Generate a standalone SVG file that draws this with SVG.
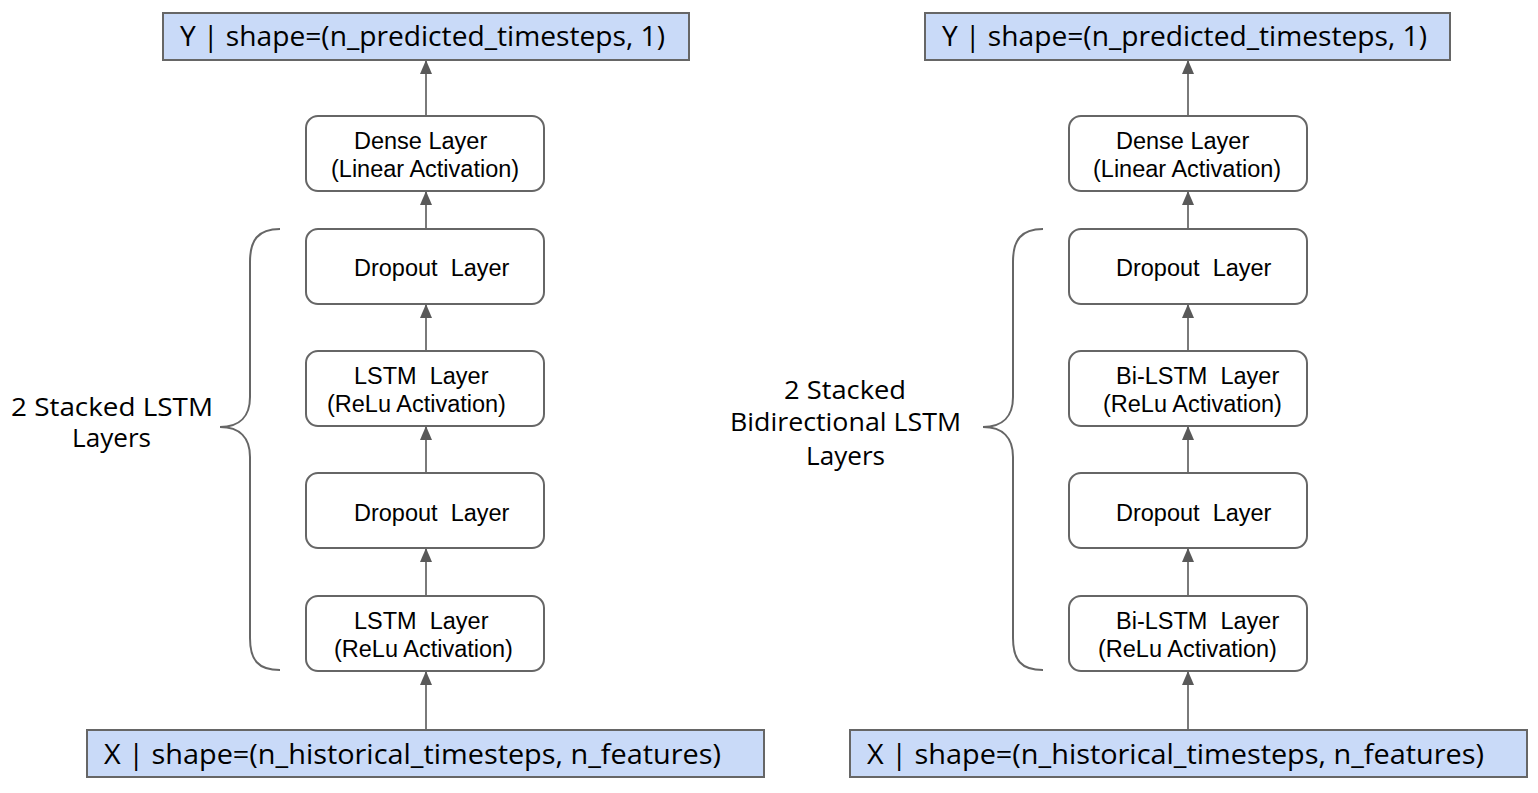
<svg xmlns="http://www.w3.org/2000/svg" width="1538" height="793" viewBox="0 0 1538 793">
<style>
.io{fill:#c9daf8;stroke:#666666;stroke-width:2}
.nd{fill:#ffffff;stroke:#666666;stroke-width:2}
.ct{font-family:"Comic Sans MS","Open Sans","Noto Sans",sans-serif;font-size:28px;fill:#000}
.lb{font-family:"Comic Sans MS","Open Sans","Noto Sans",sans-serif;font-size:25px;fill:#000}
.nt{font-family:"Liberation Sans",Arial,sans-serif;font-size:23.5px;fill:#000}
.cn{stroke:#595959;stroke-width:1.6;fill:none}
.br{stroke:#666666;stroke-width:2;fill:none}
</style>
<defs>
<marker id="ah" markerUnits="userSpaceOnUse" markerWidth="14" markerHeight="12" refX="14" refY="6" orient="auto">
<path d="M0,0 L14,6 L0,12 z" fill="#595959"/>
</marker>
</defs>
<rect width="1538" height="793" fill="#ffffff"/>

<g id="connectors">
<line class="cn" x1="426" y1="116" x2="426" y2="60" marker-end="url(#ah)"/>
<line class="cn" x1="426" y1="229" x2="426" y2="191" marker-end="url(#ah)"/>
<line class="cn" x1="426" y1="351" x2="426" y2="304" marker-end="url(#ah)"/>
<line class="cn" x1="426" y1="473" x2="426" y2="426" marker-end="url(#ah)"/>
<line class="cn" x1="426" y1="596" x2="426" y2="548" marker-end="url(#ah)"/>
<line class="cn" x1="426" y1="730" x2="426" y2="671" marker-end="url(#ah)"/>
<line class="cn" x1="1188" y1="116" x2="1188" y2="60" marker-end="url(#ah)"/>
<line class="cn" x1="1188" y1="229" x2="1188" y2="191" marker-end="url(#ah)"/>
<line class="cn" x1="1188" y1="351" x2="1188" y2="304" marker-end="url(#ah)"/>
<line class="cn" x1="1188" y1="473" x2="1188" y2="426" marker-end="url(#ah)"/>
<line class="cn" x1="1188" y1="596" x2="1188" y2="548" marker-end="url(#ah)"/>
<line class="cn" x1="1188" y1="730" x2="1188" y2="671" marker-end="url(#ah)"/>
</g>

<g id="left-output">
<rect class="io" x="163" y="13" width="526" height="47"/>
<text class="ct" x="180" y="46" textLength="485" lengthAdjust="spacingAndGlyphs">Y | shape=(n_predicted_timesteps, 1)</text>
</g>
<g id="left-dense">
<rect class="nd" x="306" y="116" width="238" height="75" rx="12"/>
<text class="nt" x="354" y="149">Dense Layer</text>
<text class="nt" x="331" y="177">(Linear Activation)</text>
</g>
<g id="left-dropout1">
<rect class="nd" x="306" y="229" width="238" height="75" rx="12"/>
<text class="nt" x="354" y="276" xml:space="preserve">Dropout  Layer</text>
</g>
<g id="left-lstm1">
<rect class="nd" x="306" y="351" width="238" height="75" rx="12"/>
<text class="nt" x="354" y="384" xml:space="preserve">LSTM  Layer</text>
<text class="nt" x="327" y="412">(ReLu Activation)</text>
</g>
<g id="left-dropout2">
<rect class="nd" x="306" y="473" width="238" height="75" rx="12"/>
<text class="nt" x="354" y="521" xml:space="preserve">Dropout  Layer</text>
</g>
<g id="left-lstm2">
<rect class="nd" x="306" y="596" width="238" height="75" rx="12"/>
<text class="nt" x="354" y="629" xml:space="preserve">LSTM  Layer</text>
<text class="nt" x="334" y="657">(ReLu Activation)</text>
</g>
<g id="left-input">
<rect class="io" x="87" y="730" width="677" height="47"/>
<text class="ct" x="104" y="764" textLength="617" lengthAdjust="spacingAndGlyphs">X | shape=(n_historical_timesteps, n_features)</text>
</g>
<g id="left-brace">
<path class="br" d="M280,229 C258,229 250,240 250,262 L250,397 C250,416 240,427 220,427 C240,427 250,438 250,457 L250,638 C250,660 258,670 280,670"/>
<text class="lb" x="11" y="416" textLength="202" lengthAdjust="spacingAndGlyphs">2 Stacked LSTM</text>
<text class="lb" x="72" y="447" textLength="79" lengthAdjust="spacingAndGlyphs">Layers</text>
</g>

<g id="right-output">
<rect class="io" x="925" y="13" width="525" height="47"/>
<text class="ct" x="942" y="46" textLength="485" lengthAdjust="spacingAndGlyphs">Y | shape=(n_predicted_timesteps, 1)</text>
</g>
<g id="right-dense">
<rect class="nd" x="1069" y="116" width="238" height="75" rx="12"/>
<text class="nt" x="1116" y="149">Dense Layer</text>
<text class="nt" x="1093" y="177">(Linear Activation)</text>
</g>
<g id="right-dropout1">
<rect class="nd" x="1069" y="229" width="238" height="75" rx="12"/>
<text class="nt" x="1116" y="276" xml:space="preserve">Dropout  Layer</text>
</g>
<g id="right-bilstm1">
<rect class="nd" x="1069" y="351" width="238" height="75" rx="12"/>
<text class="nt" x="1116" y="384" xml:space="preserve">Bi-LSTM  Layer</text>
<text class="nt" x="1103" y="412">(ReLu Activation)</text>
</g>
<g id="right-dropout2">
<rect class="nd" x="1069" y="473" width="238" height="75" rx="12"/>
<text class="nt" x="1116" y="521" xml:space="preserve">Dropout  Layer</text>
</g>
<g id="right-bilstm2">
<rect class="nd" x="1069" y="596" width="238" height="75" rx="12"/>
<text class="nt" x="1116" y="629" xml:space="preserve">Bi-LSTM  Layer</text>
<text class="nt" x="1098" y="657">(ReLu Activation)</text>
</g>
<g id="right-input">
<rect class="io" x="850" y="730" width="677" height="47"/>
<text class="ct" x="867" y="764" textLength="617" lengthAdjust="spacingAndGlyphs">X | shape=(n_historical_timesteps, n_features)</text>
</g>
<g id="right-brace">
<path class="br" d="M1043,229 C1021,229 1013,240 1013,262 L1013,397 C1013,416 1003,427 983,427 C1003,427 1013,438 1013,457 L1013,638 C1013,660 1021,670 1043,670"/>
<text class="lb" x="784" y="399" textLength="122" lengthAdjust="spacingAndGlyphs">2 Stacked</text>
<text class="lb" x="730" y="431" textLength="231" lengthAdjust="spacingAndGlyphs">Bidirectional LSTM</text>
<text class="lb" x="806" y="465" textLength="79" lengthAdjust="spacingAndGlyphs">Layers</text>
</g>
</svg>
